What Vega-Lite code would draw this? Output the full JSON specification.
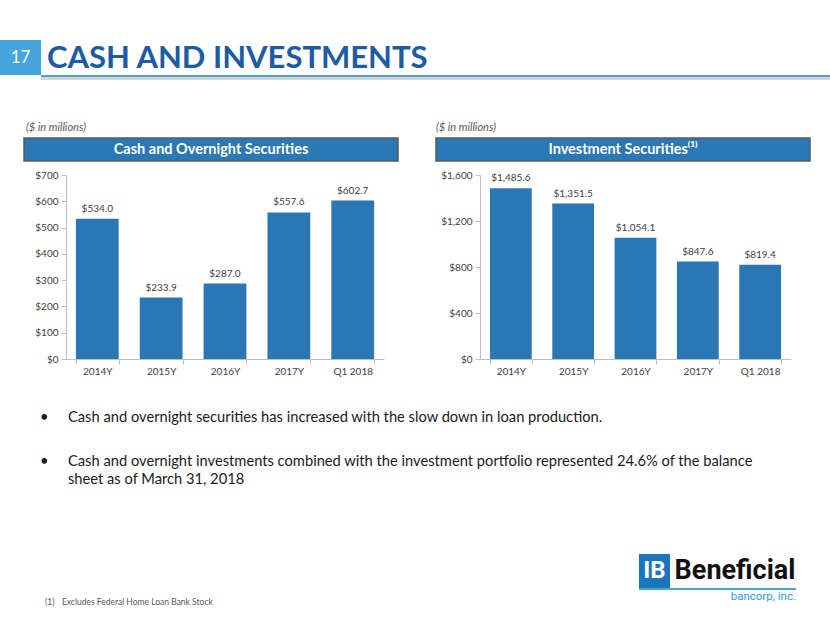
{
  "$schema": "https://vega.github.io/schema/vega-lite/v6.json",
  "background": "white",
  "padding": {"top": 40, "left": 0, "right": 0, "bottom": 0},
  "config": {
    "font": "Lato",
    "view": {"stroke": null},
    "title": {"font": "Lato", "fontWeight": "normal", "anchor": "start", "frame": "group"}
  },
  "spacing": 0,
  "vconcat": [
    {
      "spacing": 0,
      "hconcat": [
        {
          "width": 41, "height": 35,
          "view": {"fill": "#45a6dd", "stroke": null},
          "data": {"values": [{"t": "17"}]},
          "mark": {"type": "text", "color": "white", "fontSize": 17, "align": "center", "baseline": "middle"},
          "encoding": {"text": {"field": "t"}}
        },
        {
          "spacing": 0,
          "vconcat": [
            {"width": 789, "height": 3, "data": {"values": []}, "mark": "text"},
            {
              "width": 789, "height": 2,
              "view": {"fill": "#4aa3df", "stroke": null},
              "title": {"text": "CASH AND INVESTMENTS", "anchor": "start", "frame": "group", "offset": 0, "dx": 6, "fontSize": 31, "fontWeight": "bold", "color": "#1c5ca5"},
              "data": {"values": []},
              "mark": "text"
            },
            {
              "width": 789, "height": 3,
              "view": {"fill": "#d6d6d6", "stroke": null},
              "data": {"values": []},
              "mark": "text"
            }
          ]
        }
      ]
    },
    {"width": 1, "height": 41, "data": {"values": []}, "mark": "text"},
    {
      "spacing": 0,
      "hconcat": [
        {"width": 23, "height": 1, "data": {"values": []}, "mark": "text"},
        {
          "width": 374, "height": 23,
          "view": {"fill": "#2c78b5", "stroke": "#5a5a5a", "strokeWidth": 1.5},
          "title": {"text": "($ in millions)", "offset": 5, "dx": 2, "fontSize": 11, "fontStyle": "italic", "color": "#595959"},
          "data": {"values": [{"t": "Cash and Overnight Securities"}]},
          "mark": {"type": "text", "color": "white", "fontSize": 14.5, "fontWeight": "bold", "align": "center", "baseline": "middle"},
          "encoding": {"text": {"field": "t"}}
        },
        {"width": 36, "height": 1, "data": {"values": []}, "mark": "text"},
        {
          "width": 374, "height": 23,
          "view": {"fill": "#2c78b5", "stroke": "#5a5a5a", "strokeWidth": 1.5},
          "title": {"text": "($ in millions)", "offset": 5, "dx": 0, "fontSize": 11, "fontStyle": "italic", "color": "#595959"},
          "data": {"values": [{"t": "Investment Securities⁽¹⁾"}]},
          "mark": {"type": "text", "color": "white", "fontSize": 14.5, "fontWeight": "bold", "align": "center", "baseline": "middle"},
          "encoding": {"text": {"field": "t"}}
        }
      ]
    },
    {"width": 1, "height": 8, "data": {"values": []}, "mark": "text"},
    {
      "spacing": 0,
      "hconcat": [
        {"width": 1, "height": 1, "data": {"values": []}, "mark": "text"},
        {
          "width": 318, "height": 184,
          "data": {"values": [
            {"period": "2014Y", "value": 534.0},
            {"period": "2015Y", "value": 233.9},
            {"period": "2016Y", "value": 287.0},
            {"period": "2017Y", "value": 557.6},
            {"period": "Q1 2018", "value": 602.7}
          ]},
          "encoding": {
            "x": {"field": "period", "type": "ordinal", "sort": null,
                  "scale": {"paddingInner": 0.33, "paddingOuter": 0.155},
                  "axis": {"title": null, "labelAngle": 0, "tickBand": "extent", "domainColor": "#bfbfbf", "tickColor": "#bfbfbf", "tickSize": 5, "labelColor": "#404040", "labelFontSize": 10, "labelPadding": 2}},
            "y": {"field": "value", "type": "quantitative",
                  "scale": {"domain": [0, 700], "nice": false},
                  "axis": {"title": null, "grid": false, "values": [0, 100, 200, 300, 400, 500, 600, 700], "format": "$,.0f", "domainColor": "#bfbfbf", "tickColor": "#bfbfbf", "tickSize": 5, "labelColor": "#404040", "labelFontSize": 10, "labelPadding": 3, "minExtent": 65, "maxExtent": 65}}
          },
          "layer": [
            {"mark": {"type": "bar", "color": "#2a77b3"}},
            {"mark": {"type": "text", "baseline": "bottom", "dy": -5, "fontSize": 10, "color": "#404040"},
             "encoding": {"text": {"field": "value", "type": "quantitative", "format": "$,.1f"}}}
          ]
        },
        {
          "width": 311, "height": 184,
          "data": {"values": [
            {"period": "2014Y", "value": 1485.6},
            {"period": "2015Y", "value": 1351.5},
            {"period": "2016Y", "value": 1054.1},
            {"period": "2017Y", "value": 847.6},
            {"period": "Q1 2018", "value": 819.4}
          ]},
          "encoding": {
            "x": {"field": "period", "type": "ordinal", "sort": null,
                  "scale": {"paddingInner": 0.33, "paddingOuter": 0.16},
                  "axis": {"title": null, "labelAngle": 0, "tickBand": "extent", "domainColor": "#bfbfbf", "tickColor": "#bfbfbf", "tickSize": 5, "labelColor": "#404040", "labelFontSize": 10, "labelPadding": 2}},
            "y": {"field": "value", "type": "quantitative",
                  "scale": {"domain": [0, 1600], "nice": false},
                  "axis": {"title": null, "grid": false, "values": [0, 400, 800, 1200, 1600], "format": "$,.0f", "domainColor": "#bfbfbf", "tickColor": "#bfbfbf", "tickSize": 5, "labelColor": "#404040", "labelFontSize": 10, "labelPadding": 3, "minExtent": 96, "maxExtent": 96}}
          },
          "layer": [
            {"mark": {"type": "bar", "color": "#2a77b3"}},
            {"mark": {"type": "text", "baseline": "bottom", "dy": -5, "fontSize": 10, "color": "#404040"},
             "encoding": {"text": {"field": "value", "type": "quantitative", "format": "$,.1f"}}}
          ]
        }
      ]
    },
    {"width": 1, "height": 34, "data": {"values": []}, "mark": "text"},
    {
      "spacing": 0,
      "hconcat": [
        {"width": 68, "height": 1, "title": {"text": "•", "dx": 40, "offset": 0, "fontSize": 14.7, "color": "#1a1a1a"}, "data": {"values": []}, "mark": "text"},
        {"width": 740, "height": 1, "title": {"text": "Cash and overnight securities has increased with the slow down in loan production.", "offset": 0, "fontSize": 14.7, "color": "#1a1a1a"}, "data": {"values": []}, "mark": "text"}
      ]
    },
    {"width": 1, "height": 28, "data": {"values": []}, "mark": "text"},
    {
      "spacing": 0,
      "hconcat": [
        {"width": 68, "height": 1, "title": {"text": ["•", "\u00a0"], "lineHeight": 18, "dx": 40, "offset": 0, "fontSize": 14.7, "color": "#1a1a1a"}, "data": {"values": []}, "mark": "text"},
        {"width": 740, "height": 1, "title": {"text": ["Cash and overnight investments combined with the investment portfolio represented 24.6% of the balance", "sheet as of March 31, 2018"], "lineHeight": 18, "offset": 0, "fontSize": 14.7, "color": "#1a1a1a"}, "data": {"values": []}, "mark": "text"}
      ]
    },
    {"width": 1, "height": 66, "data": {"values": []}, "mark": "text"},
    {
      "spacing": 0,
      "hconcat": [
        {"spacing": 0, "vconcat": [
          {"width": 639, "height": 43, "data": {"values": []}, "mark": "text"},
          {"width": 639, "height": 1, "title": {"text": "(1)\u2003\u2009Excludes Federal Home Loan Bank Stock", "dx": 45, "offset": 0, "fontSize": 8.5, "color": "#595959"}, "data": {"values": []}, "mark": "text"}
        ]},
        {"spacing": 0, "vconcat": [
          {"spacing": 4, "hconcat": [
            {"width": 31, "height": 34, "view": {"fill": "#1b75bc", "stroke": null}, "data": {"values": [{"t": "IB"}]}, "mark": {"type": "text", "color": "white", "fontSize": 24, "fontWeight": "bold", "font": "Roboto", "align": "center", "baseline": "middle"}, "encoding": {"text": {"field": "t"}}},
            {"width": 122, "height": 34, "data": {"values": [{"t": "Beneficial"}]}, "mark": {"type": "text", "color": "#111111", "fontSize": 27, "fontWeight": "bold", "font": "Roboto", "align": "center", "baseline": "middle"}, "encoding": {"text": {"field": "t"}}}
          ]},
          {"width": 157, "height": 2, "view": {"fill": "#4aa3df", "stroke": null}, "data": {"values": []}, "mark": "text"},
          {"width": 157, "height": 1, "title": {"text": "bancorp, inc.", "anchor": "end", "offset": 0, "fontSize": 11.5, "font": "Roboto", "color": "#2e9ad6"}, "data": {"values": []}, "mark": "text"}
        ]}
      ]
    }
  ]
}
